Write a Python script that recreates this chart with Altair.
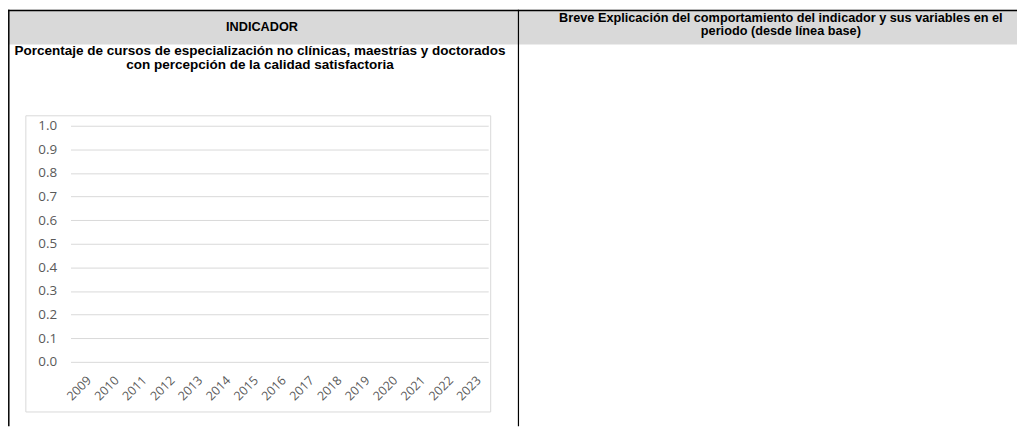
import altair as alt
import pandas as pd

years = [str(y) for y in range(2009, 2024)]
values = [None] * len(years)
y_ticks = [0.0, 0.1, 0.2, 0.3, 0.4, 0.5, 0.6, 0.7, 0.8, 0.9, 1.0]

header_left = ["INDICADOR"]
indicator_title = [
    "Porcentaje de cursos de especialización no clínicas, maestrías y doctorados",
    "con percepción de la calidad satisfactoria",
]
header_right = [
    "Breve Explicación del comportamiento del indicador y sus variables en el",
    "periodo (desde línea base)",
]

W, H = 421, 238
PAD_L, PAD_T = 63, 117
TOTAL_W, TOTAL_H = 1017, 420

df = pd.DataFrame({"year": years, "value": values})
one = pd.DataFrame({"a": [0]})

axis_font = "Open Sans"
axis_color = "#595959"
grid_color = "#d9d9d9"

line = alt.Chart(df).mark_line(color="#4472c4").encode(
    x=alt.X(
        "year:N",
        sort=years,
        scale=alt.Scale(domain=years, type="point", padding=0.5),
        axis=alt.Axis(
            title=None,
            labelAngle=315,
            labelPadding=12,
            domain=False,
            ticks=False,
            grid=False,
            labelFont=axis_font,
            labelFontSize=12.5,
            labelColor=axis_color,
        ),
    ),
    y=alt.Y(
        "value:Q",
        scale=alt.Scale(domain=[0, 1], nice=False),
        axis=alt.Axis(
            title=None,
            values=y_ticks,
            format=".1f",
            domain=False,
            ticks=False,
            labelPadding=14,
            gridColor=grid_color,
            labelFont=axis_font,
            labelFontSize=13.5,
            labelColor=axis_color,
        ),
    ),
)

# header grey band
header_band = alt.Chart(one).mark_rect(color="#d9d9d9").encode(
    x=alt.value(-PAD_L), x2=alt.value(TOTAL_W - PAD_L),
    y=alt.value(-PAD_T), y2=alt.value(-82),
)

# chart frame
frame = alt.Chart(one).mark_rect(fill=None, stroke=grid_color, strokeWidth=1).encode(
    x=alt.value(-45), x2=alt.value(423.5),
    y=alt.value(-10), y2=alt.value(288.5),
)

# table borders
top_border = alt.Chart(one).mark_rule(color="black", strokeWidth=1.5).encode(
    x=alt.value(-PAD_L), x2=alt.value(TOTAL_W - PAD_L), y=alt.value(-116.2),
)
left_border = alt.Chart(one).mark_rule(color="black", strokeWidth=1.5).encode(
    x=alt.value(-62.2), y=alt.value(-PAD_T), y2=alt.value(TOTAL_H - PAD_T),
)
divider = alt.Chart(one).mark_rule(color="black", strokeWidth=1.2).encode(
    x=alt.value(451.5), y=alt.value(-PAD_T), y2=alt.value(TOTAL_H - PAD_T),
)

hfont = "Liberation Sans"
t_left = alt.Chart(one).mark_text(
    text=header_left, font=hfont, fontSize=12.8, fontWeight="bold", color="black",
    align="center", baseline="middle",
).encode(x=alt.value(193), y=alt.value(-99.5))

t_ind = alt.Chart(one).mark_text(
    text=indicator_title, font=hfont, fontSize=13.6, fontWeight="bold", color="black",
    align="center", baseline="middle", lineHeight=14,
).encode(x=alt.value(191), y=alt.value(-75))

t_right = alt.Chart(one).mark_text(
    text=header_right, font=hfont, fontSize=12.8, fontWeight="bold", color="black",
    align="center", baseline="middle", lineHeight=14,
).encode(x=alt.value(716), y=alt.value(-109))

chart = alt.layer(
    header_band, frame, line, top_border, left_border, divider, t_left, t_ind, t_right
).properties(
    width=W, height=H,
    padding={"left": PAD_L, "top": PAD_T, "right": TOTAL_W - PAD_L - W, "bottom": TOTAL_H - PAD_T - H},
    autosize=alt.AutoSizeParams(type="none"),
    background="white",
).configure_view(stroke=None)

chart.save("out.html", embed_options={"renderer": "svg", "actions": False})
